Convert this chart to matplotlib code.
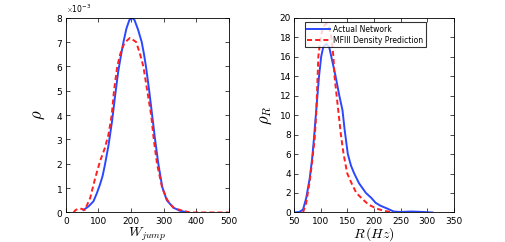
import matplotlib
matplotlib.use("Agg")
import matplotlib.pyplot as plt

plt.rcParams["mathtext.fontset"] = "cm"
plt.rcParams["font.family"] = "DejaVu Sans"

# left panel: jump weight density (values in units of 1e-3)
w_actual = [54, 70, 85, 95, 105, 113, 120, 131, 142, 151, 161, 170, 177, 186, 195, 203,
            211, 222, 233, 240, 246, 256, 265, 274, 284, 296, 310, 330, 350, 376]
rho_actual = [0.1, 0.25, 0.46, 0.78, 1.15, 1.5, 1.95, 2.75, 3.75, 4.75, 5.8, 6.5, 7.0, 7.55, 7.9, 8.0,
              7.9, 7.5, 7.0, 6.5, 6.0, 5.0, 4.0, 3.0, 2.0, 1.05, 0.5, 0.2, 0.07, 0.0]
w_pred = [24, 30, 38, 49, 58, 65, 75, 90, 105, 120, 131, 141, 148, 158, 167, 178, 187, 197,
          205, 216, 228, 238, 250, 262, 270, 280, 296, 312, 330, 351, 381, 440, 500]
rho_pred = [0.0, 0.1, 0.15, 0.15, 0.1, 0.3, 0.6, 1.4, 2.1, 2.65, 3.2, 4.0, 5.0, 6.0, 6.5, 6.9, 7.05, 7.17,
            7.1, 7.0, 6.5, 6.0, 5.0, 4.0, 3.0, 2.0, 1.0, 0.5, 0.2, 0.1, 0.0, 0.0, 0.0]

# right panel: rate density
r_actual = [50, 60, 67, 73, 79.5, 84, 87.5, 91, 94, 97, 101, 105, 110.7, 116, 120, 124, 128,
            135, 141, 145, 151, 157, 163, 172, 185, 195, 203, 212, 225, 237, 250, 270, 290, 310]
rho_r_actual = [0.0, 0.05, 0.3, 1.5, 3.5, 5.5, 7.6, 10.0, 12.0, 14.0, 16.0, 17.0, 17.3, 17.0, 16.0, 15.0, 14.0,
                12.0, 10.5, 8.5, 6.0, 4.8, 4.0, 3.0, 2.0, 1.5, 1.0, 0.7, 0.4, 0.1, 0.05, 0.1, 0.06, 0.0]
r_pred = [67, 73, 79.5, 84, 88.8, 91.5, 93, 95.7, 100, 105, 110.7, 116, 120, 124, 126, 130, 134,
          138, 143, 150, 158, 167, 180, 190, 205, 220, 238]
rho_r_pred = [0.0, 1.0, 3.2, 5.2, 7.6, 10.0, 12.0, 16.0, 18.0, 19.1, 19.4, 19.0, 18.0, 16.0, 14.0, 12.0, 10.0,
              8.0, 6.0, 4.0, 3.0, 2.0, 1.3, 0.8, 0.4, 0.15, 0.0]

fig = plt.figure(figsize=(5.06, 2.42), dpi=100)
ax1 = fig.add_axes([0.130, 0.122, 0.322, 0.805])
ax2 = fig.add_axes([0.581, 0.122, 0.316, 0.805])

blue = "#2a48ff"
red = "#ff1f1f"
dash = (0, (2.6, 1.6))

ax1.plot(w_actual, [v * 1e-3 for v in rho_actual], color=blue, lw=1.4)
ax1.plot(w_pred, [v * 1e-3 for v in rho_pred], color=red, lw=1.4, ls=dash)
ax1.set_xlim(0, 500)
ax1.set_ylim(0, 8e-3)
ax1.set_xticks([0, 100, 200, 300, 400, 500])
ax1.set_yticks([i * 1e-3 for i in range(9)])
ax1.ticklabel_format(style="sci", axis="y", scilimits=(0, 0), useMathText=True)
ax1.yaxis.get_offset_text().set_fontsize(5.5)
ax1.set_xlabel(r"$W_{jump}$", fontsize=10, labelpad=0)
ax1.set_ylabel(r"$\rho$", fontsize=12, labelpad=6)

ax2.plot(r_actual, rho_r_actual, color=blue, lw=1.4, label="Actual Network")
ax2.plot(r_pred, rho_r_pred, color=red, lw=1.4, ls=dash, label="MFIII Density Prediction")
ax2.set_xlim(50, 350)
ax2.set_ylim(0, 20)
ax2.set_xticks(range(50, 351, 50))
ax2.set_yticks(range(0, 21, 2))
ax2.set_xlabel(r"$R\,(Hz)$", fontsize=10, labelpad=0)
ax2.set_ylabel(r"$\rho_R$", fontsize=12, labelpad=4)
leg = ax2.legend(loc="upper right", fontsize=5.5, frameon=True, fancybox=False,
                 borderpad=0.35, labelspacing=0.25, handlelength=3.0, handletextpad=0.4,
                 bbox_to_anchor=(0.827, 0.978), borderaxespad=0)
leg.get_frame().set_edgecolor("black")
leg.get_frame().set_linewidth(0.8)

for ax in (ax1, ax2):
    ax.tick_params(direction="in", top=True, right=True, labelsize=6.5, length=3, width=0.5, pad=2)
    ax.tick_params(axis="x", pad=3)
    for s in ax.spines.values():
        s.set_linewidth(0.6)

fig.savefig("out.png", dpi=100)
